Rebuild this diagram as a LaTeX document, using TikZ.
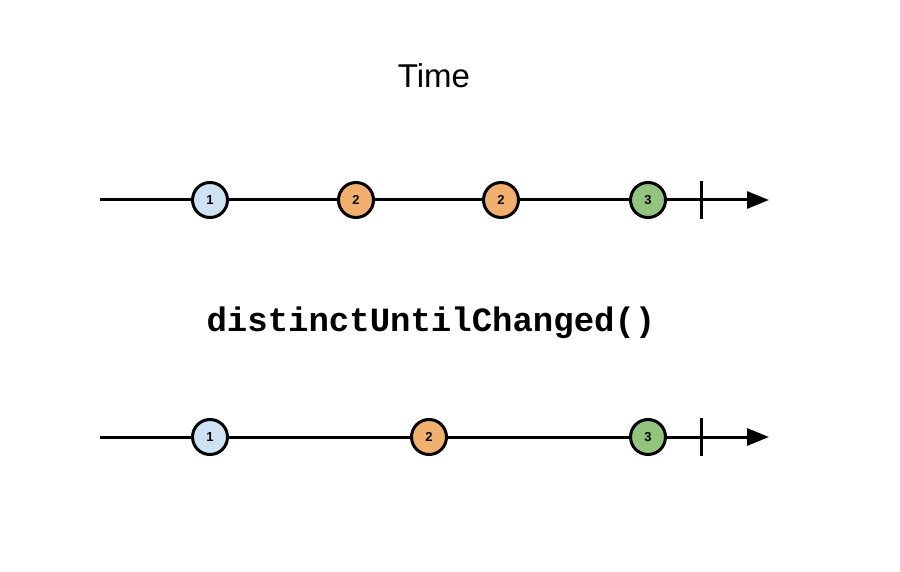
\documentclass[tikz,border=0pt]{standalone}
\usepackage{fontspec}
\setmainfont{Liberation Sans}
\setmonofont{Liberation Mono}
\usetikzlibrary{arrows.meta}
\definecolor{cblue}{HTML}{CFE2F3}
\definecolor{corange}{HTML}{F2B06F}
\definecolor{cgreen}{HTML}{93C47D}
\tikzset{
  marble/.style={circle, draw=black, line width=3pt, minimum size=35pt, inner sep=0pt, font=\fontsize{13}{15}\selectfont\bfseries},
  timeline/.style={line width=3pt, -{Triangle[length=22pt,width=17pt]}},
  endtick/.style={line width=3pt},
}
\begin{document}
\begin{tikzpicture}[x=1pt,y=-1pt]
\useasboundingbox (0,0) rectangle (900,572);
\node (title) at (434,76) {\fontsize{33}{38}\selectfont Time};
% top line
\coordinate (s1) at (100,200);
\coordinate (e1) at (769,200);
\draw[timeline] (s1) -- (e1);
\node[marble, fill=cblue] (a1) at (210,200) {1};
\node[marble, fill=corange] (a2) at (356,200) {2};
\node[marble, fill=corange] (a3) at (501,200) {2};
\node[marble, fill=cgreen] (a4) at (648,200) {3};
\coordinate (t1a) at (701,181);
\coordinate (t1b) at (701,219);
\draw[endtick] (t1a) -- (t1b);
% operator
\node (op) at (431,323) {\fontsize{34}{40}\selectfont\ttfamily\bfseries distinctUntilChanged()};
% bottom line
\coordinate (s2) at (100,437);
\coordinate (e2) at (769,437);
\draw[timeline] (s2) -- (e2);
\node[marble, fill=cblue] (b1) at (210,437) {1};
\node[marble, fill=corange] (b2) at (429,437) {2};
\node[marble, fill=cgreen] (b3) at (648,437) {3};
\coordinate (t2a) at (701,418);
\coordinate (t2b) at (701,456);
\draw[endtick] (t2a) -- (t2b);
\end{tikzpicture}
\end{document}
